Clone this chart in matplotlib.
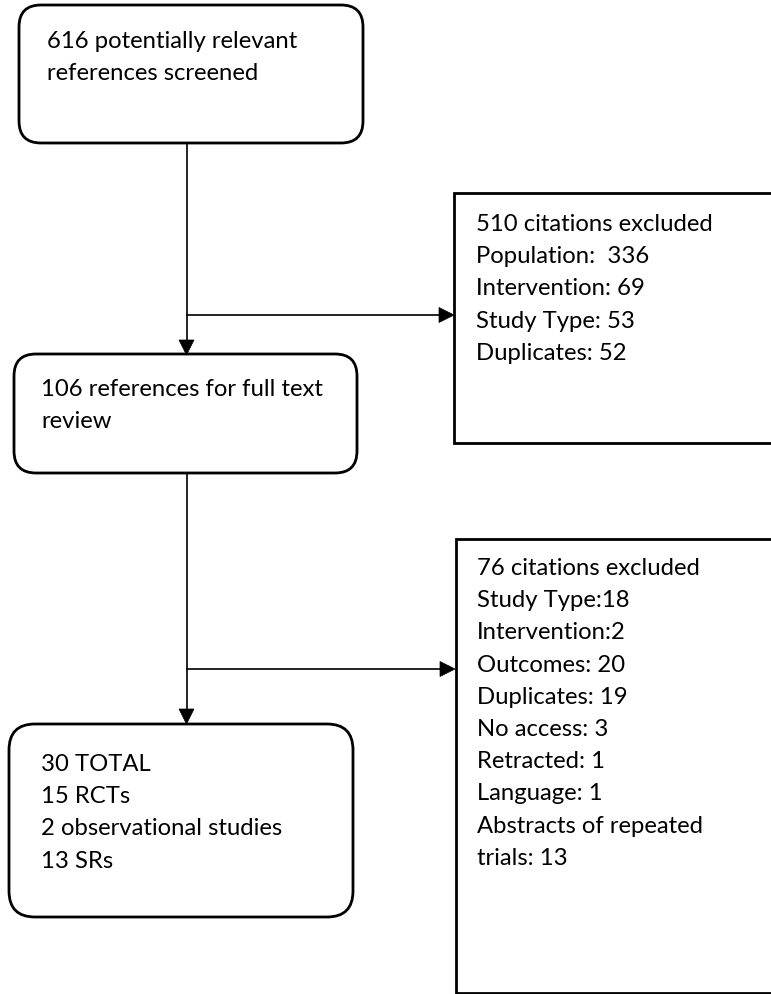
import matplotlib
matplotlib.use("Agg")
import matplotlib.pyplot as plt
from matplotlib.patches import FancyBboxPatch, Rectangle, Polygon

# ---- data ----
screened = 616
excluded_1 = 510
excl1_labels = ["Population:  ", "Intervention: ", "Study Type: ", "Duplicates: "]
excl1_counts = [336, 69, 53, 52]
fulltext = 106
excluded_2 = 76
excl2_labels = ["Study Type:", "Intervention:", "Outcomes: ", "Duplicates: ", "No access: ",
                "Retracted: ", "Language: ", "Abstracts of repeated\ntrials: "]
excl2_counts = [18, 2, 20, 19, 3, 1, 1, 13]
total = 30
incl_labels = ["RCTs", "observational studies", "SRs"]
incl_counts = [15, 2, 13]

W, H = 771, 994
fig = plt.figure(figsize=(W / 100, H / 100), dpi=100)
ax = fig.add_axes([0, 0, 1, 1])
ax.set_xlim(0, W)
ax.set_ylim(H, 0)
ax.axis("off")

FONT = dict(family=["Lato", "DejaVu Sans"], fontsize=17.2, color="black")
LH = 32.2
BW = 2.0
CW = 1.2


def rbox(x0, y0, x1, y1, r=20):
    p = FancyBboxPatch((x0, y0), x1 - x0, y1 - y0,
                       boxstyle=f"round,pad=0,rounding_size={r}",
                       fc="white", ec="black", lw=BW, zorder=2)
    ax.add_patch(p)


def sbox(x0, y0, x1, y1):
    ax.add_patch(Rectangle((x0, y0), x1 - x0, y1 - y0, fc="white", ec="black",
                           lw=BW, zorder=2, clip_on=True))


def lines(x, y0, texts):
    for i, t in enumerate(texts):
        ax.text(x, y0 + i * LH, t, va="baseline", ha="left", zorder=3, **FONT)


def arrow_down(x, ytip, s=15):
    ax.add_patch(Polygon([(x - s / 2, ytip - s), (x + s / 2, ytip - s), (x, ytip)],
                         closed=True, fc="black", ec="black", lw=0.5, zorder=4))


def arrow_right(xtip, y, s=15):
    ax.add_patch(Polygon([(xtip - s, y - s / 2), (xtip - s, y + s / 2), (xtip, y)],
                         closed=True, fc="black", ec="black", lw=0.5, zorder=4))


cx = 186.5
# connectors
ax.plot([cx, cx], [143, 341], color="black", lw=CW, zorder=1)
ax.plot([cx, 440], [315, 315], color="black", lw=CW, zorder=1)
arrow_down(cx, 355)
arrow_right(454, 315)
ax.plot([cx, cx], [473, 710], color="black", lw=CW, zorder=1)
ax.plot([cx, 441], [669, 669], color="black", lw=CW, zorder=1)
arrow_down(cx, 724)
arrow_right(455, 669)

# boxes
rbox(19, 5, 363, 143, r=22)
lines(47, 48, ["%d potentially relevant" % screened, "references screened"])

sbox(454, 193, 790, 443)
lines(476, 231, ["%d citations excluded" % excluded_1] +
      [l + str(c) for l, c in zip(excl1_labels, excl1_counts)])

rbox(14, 354, 357, 473, r=22)
lines(41, 396, ["%d references for full text" % fulltext, "review"])

sbox(456, 539, 790, 993)
ex2 = ["%d citations excluded" % excluded_2]
for l, c in zip(excl2_labels, excl2_counts):
    ex2.extend((l + str(c)).split("\n"))
lines(477, 575, ex2)

rbox(9, 724, 353, 917, r=26)
lines(41, 771, ["%d TOTAL" % total] + ["%d %s" % (c, l) for l, c in zip(incl_labels, incl_counts)])

fig.savefig("out.png", dpi=100, facecolor="white")
